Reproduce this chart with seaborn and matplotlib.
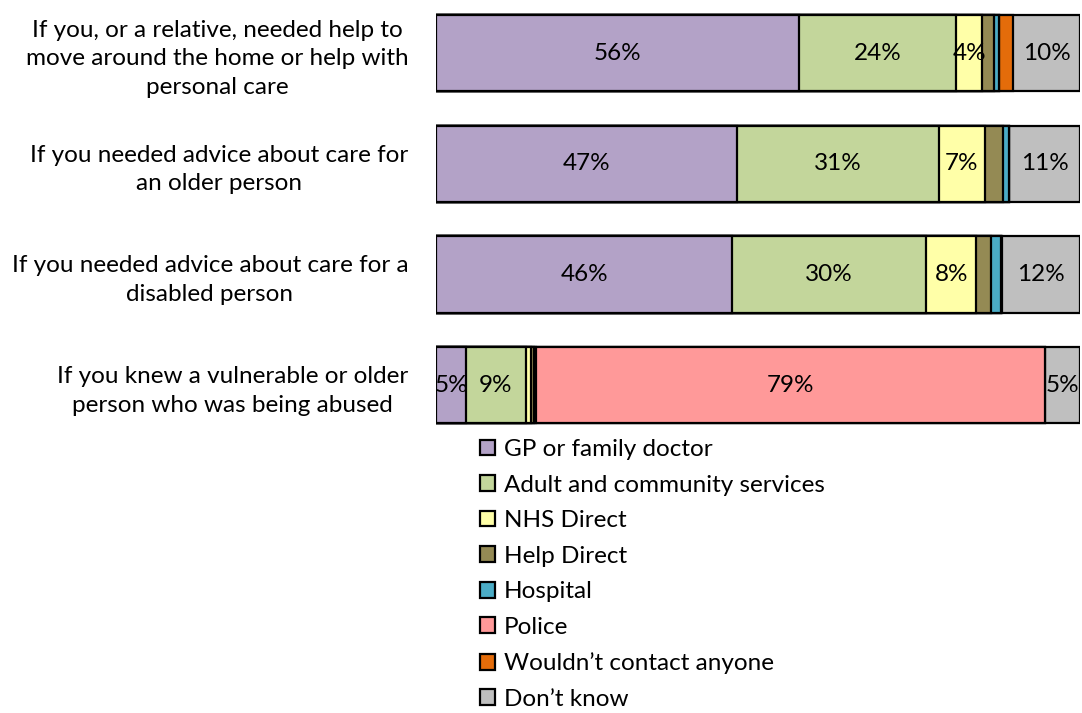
import numpy as np
import pandas as pd
import matplotlib
matplotlib.use("Agg")
import matplotlib.pyplot as plt
from matplotlib.patches import Patch
import seaborn as sns

categories = [
    "If you, or a relative, needed help to\nmove around the home or help with\npersonal care",
    "If you needed advice about care for\nan older person",
    "If you needed advice about care for a\ndisabled person",
    "If you knew a vulnerable or older\nperson who was being abused",
]
series_names = ["GP or family doctor", "Adult and community services", "NHS Direct",
                "Help Direct", "Hospital", "Police", "Wouldn\u2019t contact anyone", "Don\u2019t know"]
gp = [56.4, 46.8, 46.0, 4.7]
adult = [24.4, 31.3, 30.1, 9.2]
nhs = [4.0, 7.1, 7.8, 0.8]
help_direct = [1.9, 2.8, 2.3, 0.5]
hospital = [0.7, 0.9, 1.5, 0.3]
police = [0.0, 0.0, 0.0, 79.1]
wouldnt = [2.2, 0.1, 0.2, 0.0]
dont_know = [10.4, 11.0, 12.1, 5.4]
colors = ["#B3A2C7", "#C3D69B", "#FFFFA8", "#948A54", "#4BACC6", "#FF9999", "#E46C0A", "#BFBFBF"]

series = [gp, adult, nhs, help_direct, hospital, police, wouldnt, dont_know]

sns.set_theme(style="white")
plt.rcParams['font.family'] = ['Lato', 'DejaVu Sans']
plt.rcParams['text.color'] = 'black'
plt.rcParams['ytick.color'] = 'black'

FS = 17.5

fig = plt.figure(figsize=(10.82, 7.13), dpi=100)
ax = fig.add_axes([436/1082, 1 - 434.8/713, (1080-436)/1082, 0.6053])

vals = np.array(series)
cum = np.cumsum(vals, axis=0)
for i in range(len(series) - 1, -1, -1):
    df = pd.DataFrame({"cat": categories, "val": cum[i]})
    sns.barplot(data=df, x="val", y="cat", orient="h", color=colors[i], saturation=1,
                width=0.69, edgecolor="black", linewidth=1.6, ax=ax)

for i in range(len(series)):
    for j in range(len(categories)):
        v = vals[i, j]
        if v >= 3.5:
            start = cum[i, j] - v
            ax.text(start + v / 2, j, f"{round(v)}%", ha="center", va="center",
                    fontsize=FS, color="black")

ax.set_xlim(0, 100)
ax.set_ylim(3.45, -0.45)
ax.set_xlabel("")
ax.set_ylabel("")
ax.set_xticks([])
ax.tick_params(axis="y", length=0, pad=20, labelsize=FS, labelcolor="black")
for lbl in ax.get_yticklabels():
    lbl.set_multialignment("center")
    lbl.set_linespacing(1.45)
for s in ax.spines.values():
    s.set_visible(False)

handles = [Patch(facecolor=c, edgecolor="black", linewidth=1.6) for c in colors]
fig.legend(handles, series_names, loc="upper left", bbox_to_anchor=(480/1082, 1 - 439/713),
           frameon=False, fontsize=FS, handlelength=0.62, handleheight=0.62,
           handletextpad=0.35, labelspacing=0.6, borderaxespad=0, borderpad=0)

fig.savefig("out.png", dpi=100)
